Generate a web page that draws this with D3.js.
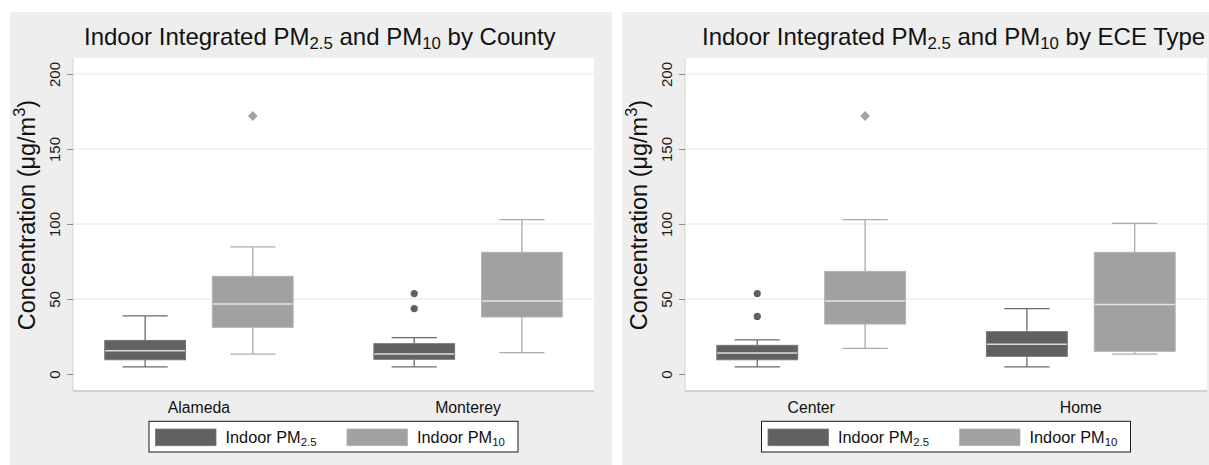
<!DOCTYPE html>
<html>
<head>
<meta charset="utf-8">
<script src="https://cdn.jsdelivr.net/npm/d3@7"></script>
<style>
  html, body { margin: 0; padding: 0; background: #ffffff; }
  svg { display: block; font-family: "Liberation Sans", Arial, sans-serif; }
</style>
</head>
<body>
<svg id="chart" width="1209" height="465"></svg>
<script>
// ---- data ----------------------------------------------------------------
// Box statistics: [lower whisker, Q1, median, Q3, upper whisker] (µg/m³)
const seriesNames = ["Indoor PM_{2.5}", "Indoor PM_{10}"];
const yTicks = [0, 50, 100, 150, 200];
const gridTicks = [50, 100, 150, 200];
const yTitle = "Concentration (μg/m^{3})";

const countyTitle = "Indoor Integrated PM_{2.5} and PM_{10} by County";
const counties = ["Alameda", "Monterey"];
const countyPM25 = [[4.7, 9.5, 15.5, 22.4, 38.7], [4.7, 9.8, 13.3, 20.2, 24.2]];
const countyPM10 = [[13.3, 31.1, 46.7, 65.1, 84.7], [14.2, 38.0, 48.7, 81.1, 102.9]];
const countyOutPM25 = [[], [53.6, 43.6]];
const countyOutPM10 = [[172], []];

const eceTitle = "Indoor Integrated PM_{2.5} and PM_{10} by ECE Type";
const eceTypes = ["Center", "Home"];
const ecePM25 = [[4.7, 9.5, 14.0, 19.1, 22.7], [4.7, 11.8, 19.8, 28.2, 43.6]];
const ecePM10 = [[17.1, 33.3, 48.7, 68.4, 102.9], [13.3, 15.1, 46.4, 81.1, 100.4]];
const eceOutPM25 = [[53.6, 38.4], []];
const eceOutPM10 = [[172], []];

// ---- styling -------------------------------------------------------------
const seriesStyle = [
  { fill: "#616161", stroke: "#757575", whisker: "#6b6b6b", median: "#dcdcdc", marker: "circle" },
  { fill: "#a1a1a1", stroke: "#b3b3b3", whisker: "#ababab", median: "#e4e4e4", marker: "diamond" }
];

const svg = d3.select("#chart");

// Writes "a_{b}" / "a^{b}" markup as tspans with sub/superscripts.
function richText(sel, str, size) {
  const parts = str.split(/([_^]\{[^}]*\})/).filter(s => s.length);
  let pending = 0;
  parts.forEach(p => {
    if (p[0] === "_" || p[0] === "^") {
      const shift = p[0] === "_" ? size * 0.18 : -size * 0.42;
      sel.append("tspan").attr("dy", shift + pending).attr("font-size", size * 0.7).text(p.slice(2, -1));
      pending = -shift;
    } else {
      const t = sel.append("tspan").attr("font-size", size).text(p);
      if (pending) t.attr("dy", pending);
      pending = 0;
    }
  });
}

const panels = [
  { title: countyTitle, cats: counties, s1: countyPM25, s2: countyPM10, o1: countyOutPM25, o2: countyOutPM10,
    bgX: 10, left: 73, right: 594, titleX: 84 },
  { title: eceTitle, cats: eceTypes, s1: ecePM25, s2: ecePM10, o1: eceOutPM25, o2: eceOutPM10,
    bgX: 622, left: 685, right: 1207, titleX: 702 }
];

const plotTop = 58, plotBottom = 391;
const y = d3.scaleLinear().domain([0, 200]).range([374, 74]);

panels.forEach(p => {
  const g = svg.append("g");
  // panel background
  g.append("rect").attr("x", p.bgX).attr("y", 12).attr("width", 602).attr("height", 470).attr("fill", "#eeeeee");
  // plot region
  g.append("rect").attr("x", p.left).attr("y", plotTop).attr("width", p.right - p.left).attr("height", plotBottom - plotTop)
    .attr("fill", "#ffffff");

  // grid
  g.selectAll("line.grid").data(gridTicks).join("line").attr("class", "grid")
    .attr("x1", p.left).attr("x2", p.right).attr("y1", d => y(d)).attr("y2", d => y(d))
    .attr("stroke", "#e8e8e8").attr("stroke-width", 1.2);

  // axis frame
  g.append("line").attr("x1", p.left).attr("x2", p.left).attr("y1", plotTop).attr("y2", plotBottom)
    .attr("stroke", "#d2d2d2");
  g.append("line").attr("x1", p.left).attr("x2", p.right).attr("y1", plotBottom).attr("y2", plotBottom)
    .attr("stroke", "#c4c4c4").attr("stroke-width", 1.3);

  // y axis ticks and labels
  const yAxis = d3.axisLeft(y).tickValues(yTicks).tickSize(6).tickPadding(0).tickFormat(d3.format("d"));
  const ax = g.append("g").attr("transform", `translate(${p.left},0)`).call(yAxis);
  ax.select(".domain").remove();
  ax.selectAll(".tick line").attr("stroke", "#8a8a8a");
  ax.selectAll(".tick text")
    .attr("x", 0).attr("y", 0).attr("dy", 0)
    .attr("text-anchor", "middle")
    .attr("font-size", 15).attr("font-family", "Liberation Sans, Arial, sans-serif").attr("fill", "#1a1a1a")
    .attr("transform", "translate(-13.5,0) rotate(-90)");

  // y title
  const yt = g.append("text")
    .attr("transform", `translate(${p.bgX + 24.5},${215}) rotate(-90)`)
    .attr("text-anchor", "middle").attr("fill", "#111111");
  richText(yt, yTitle, 23.5);

  // title
  const tt = g.append("text").attr("x", p.titleX).attr("y", 45).attr("fill", "#111111");
  richText(tt, p.title, 24);

  // scales
  const x = d3.scalePoint().domain(p.cats).range([p.left, p.right]).padding(0.468);
  const inner = d3.scalePoint().domain([0, 1]).range([-0.2 * x.step(), 0.2 * x.step()]);
  const boxW = 0.3 * x.step();
  const capHalf = 0.084 * x.step();

  // category labels
  g.selectAll("text.cat").data(p.cats).join("text").attr("class", "cat")
    .attr("x", d => x(d)).attr("y", 413).attr("text-anchor", "middle")
    .attr("font-size", 15.8).attr("fill", "#111111").text(d => d);

  const seriesData = [p.s1, p.s2];
  const outData = [p.o1, p.o2];
  seriesData.forEach((sd, si) => {
    const st = seriesStyle[si];
    p.cats.forEach((c, ci) => {
      const [lo, q1, med, q3, hi] = sd[ci];
      const cx = x(c) + inner(si);
      const bg = g.append("g");
      // whiskers
      bg.append("line").attr("x1", cx).attr("x2", cx).attr("y1", y(q3)).attr("y2", y(hi))
        .attr("stroke", st.whisker).attr("stroke-width", 1.3);
      bg.append("line").attr("x1", cx).attr("x2", cx).attr("y1", y(q1)).attr("y2", y(lo))
        .attr("stroke", st.whisker).attr("stroke-width", 1.3);
      [lo, hi].forEach(v => {
        bg.append("line").attr("x1", cx - capHalf).attr("x2", cx + capHalf)
          .attr("y1", y(v)).attr("y2", y(v)).attr("stroke", st.whisker).attr("stroke-width", 1.3);
      });
      // box
      bg.append("rect").attr("x", cx - boxW / 2).attr("y", y(q3)).attr("width", boxW).attr("height", y(q1) - y(q3))
        .attr("fill", st.fill).attr("stroke", st.stroke).attr("stroke-width", 1);
      // median
      bg.append("line").attr("x1", cx - boxW / 2 + 0.5).attr("x2", cx + boxW / 2 - 0.5)
        .attr("y1", y(med)).attr("y2", y(med)).attr("stroke", st.median).attr("stroke-width", 1.5);
      // outside values
      outData[si][ci].forEach(v => {
        if (st.marker === "circle") {
          bg.append("circle").attr("cx", cx).attr("cy", y(v)).attr("r", 3.6).attr("fill", st.fill);
        } else {
          bg.append("path").attr("transform", `translate(${cx},${y(v)})`)
            .attr("d", d3.symbol(d3.symbolDiamond2, 62)()).attr("fill", "#a3a3a3");
        }
      });
    });
  });

  // legend
  const lw = 369, lh = 30.7;
  const lx = (p.left + p.right) / 2 - lw / 2, ly = 421.3;
  const lg = g.append("g").attr("transform", `translate(${lx},${ly})`);
  lg.append("rect").attr("x", 0).attr("y", 0).attr("width", lw).attr("height", lh)
    .attr("fill", "#ffffff").attr("stroke", "#1a1a1a").attr("stroke-width", 1);
  const keyX = [6.5, 198];
  seriesNames.forEach((name, i) => {
    lg.append("rect").attr("x", keyX[i]).attr("y", 7.7).attr("width", 60.5).attr("height", 16.7)
      .attr("fill", seriesStyle[i].fill).attr("stroke", seriesStyle[i].stroke).attr("stroke-width", 0.8);
    const lt = lg.append("text").attr("x", keyX[i] + 70).attr("y", 22).attr("fill", "#111111");
    richText(lt, name, 16.3);
  });
});
</script>
</body>
</html>
